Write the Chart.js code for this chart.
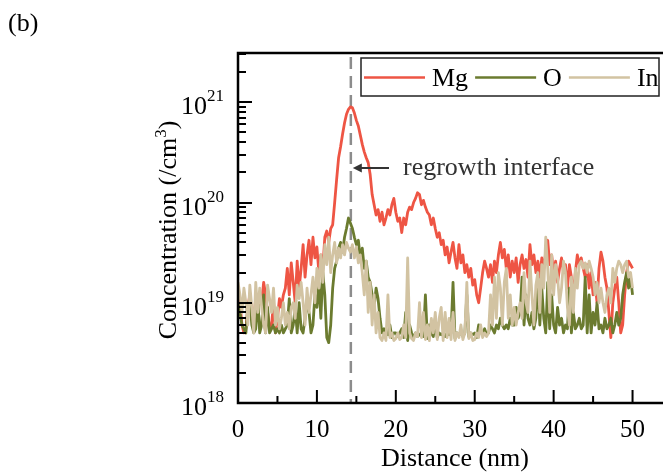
<!DOCTYPE html>
<html><head><meta charset="utf-8">
<script src="https://cdn.jsdelivr.net/npm/chart.js@4/dist/chart.umd.min.js"></script>
<style>
html,body{margin:0;padding:0;background:#fff;overflow:hidden;width:663px;height:474px}
#wrap{position:relative;width:680px;height:474px;overflow:hidden}
canvas{display:block}
</style></head><body>
<div id="wrap"><canvas id="c" width="680" height="474"></canvas></div>
<script>
// Distance sampling (nm) and concentrations in units of 1e18 /cm^3
const distanceStep = 0.25;
const UNIT = 1e18;
const mg = [
13,10,6,5, 5.5,9,12,8, 7,11,9,12, 10,16,12,8, 5.5,6,10,5,
7,11,9,12, 14,22,12,25, 16,10,26,14, 22,38,18,30, 42,24,45,28,
36,20,30,22, 45,52,40,55, 60,100,170,280, 360,480,620,760, 850,900,880,780,
660,580,470,380, 320,280,250,190, 120,95,75,85, 65,80,60,70, 85,75,95,110,
80,65,70,50, 70,60,80,90, 85,100,110,125, 120,95,105,90, 80,75,60,70,
55,45,50,38, 42,30,36,25, 32,40,28,22, 38,25,30,20, 24,18,22,15,
17,12,10,14, 20,26,22,18, 24,16,26,20, 30,40,28,34, 22,30,18,26,
20,28,16,24, 30,22,27,18, 38,24,30,20, 26,18,28,22, 32,42,24,30,
20,26,16,22, 28,20,24,14, 24,18,12,20, 30,24,28,22, 18,24,14,20,
12,16,10,22, 32,26,18,14, 8,4.5,10,14, 18,10,5,6, 12,20,26,24,
22
];
const oxygen = [
10,8,6,5.5, 5,9,11,6, 5,5.5,11,5, 6,12,5,9, 5,5.5,6,5,
5.5,5,6,5, 5.5,6,11,5, 6,9,5,10, 5.5,5,7,10, 8,5,6,12,
9,16,7,20, 12,4.5,4,6, 14,22,26,35, 40,32,45,55, 70,62,55,45,
38,42,28,35, 22,26,18,16, 12,9,14,11, 7,5,5.5,5, 4.8,6,4.5,5,
5,4.6,5,5.5, 4.5,8,4.2,6, 5,4.5,5,4.6, 4.8,5,4.6,12, 4.4,6,5,4.6,
7,4.5,5,4.8, 5,4.6,5,4.8, 5,16,4.4,5, 4.8,5,4.6,5, 12,4.6,5,4.8,
5,4.5,6,5, 5,5.5,4.8,5, 6,5.5,5,6, 5.5,7,6,5.5, 6,5.5,7,6,
6,9,7,8, 18,6,12,7, 6,8,5.5,7, 18,6,14,7, 5,16,5.5,12,
6,5,9,6, 7,5,6,5.5, 14,5,8,5.5, 6,7,5.5,6, 18,5,12,5,
8,6,10,5.5, 6,5,7,5.5, 6,7,5,6, 8,6,7,12, 16,20,14,18,
12
];
const indium = [
16,12,8,14, 10,6,15,9, 5,16,8,14, 9,6,5,15, 11,8,14,6,
9,5.5,7,10, 6,8,5.5,9, 10,7,15,11, 16,10,6,14, 8,12,18,10,
22,14,30,16, 38,24,45,20, 30,40,25,35, 28,38,30,40, 35,32,38,28,
36,25,30,20, 12,26,8,16, 6,12,5,8, 4.5,4.2,5,4.2, 12,4.5,5,4.2,
4.4,5,4.3,4.5, 6,4.5,28,5, 4.4,4.2,5,4.6, 10,4.5,8,4.3, 6,4.2,7,5,
8,4.3,7,9, 4.2,8,4.5,7, 4.3,8,4.2,5, 4.5,6,4.3,5, 16,4.4,5,4.2,
4.3,5,4.5,6, 4.5,5,4.6,5, 12,6,18,7, 20,14,6,16, 22,7,12,6,
9,6,8,10, 7,20,10,8, 26,12,6,15, 20,8,24,14, 45,22,8,30,
12,24,18,10, 14,26,20,9, 6,18,8,22, 14,24,26,22, 25,20,26,22,
18,12,16,10, 14,10,8,12, 14,10,22,16, 22,26,24,20, 24,26,18,20,
14
];
const seriesLabels = ['Mg', 'O', 'In'];
const seriesColors = ['#EE5544', '#6B7B2F', '#D2C3A2'];
const xMajorTicks = [0, 10, 20, 30, 40, 50];
const xMinorTicks = [5, 15, 25, 35, 45];
const yDecades = [18, 19, 20, 21];
const interfaceDistance = 14.3;
const xAxisTitle = 'Distance (nm)';
const yAxisTitle = ['Concentration (/cm', '3', ')'];
const panelLabel = '(b)';
const annotationText = 'regrowth interface';

const serif = '"Liberation Serif", "Times New Roman", serif';
const toPoints = arr => arr.map((v, i) => ({ x: i * distanceStep, y: v * UNIT }));

const deco = {
  id: 'deco',
  beforeDatasetsDraw(chart) {
    const { ctx, chartArea: a, scales: { x } } = chart;
    const xi = x.getPixelForValue(interfaceDistance);
    ctx.save();
    ctx.strokeStyle = '#8c8c8c';
    ctx.lineWidth = 2.5;
    ctx.setLineDash([12, 7]);
    ctx.beginPath(); ctx.moveTo(xi, a.top + 4); ctx.lineTo(xi, a.bottom); ctx.stroke();
    ctx.restore();
  },
  afterDatasetsDraw(chart) {
    const { ctx, chartArea: a, scales: { x, y } } = chart;
    ctx.save();
    // axes frame (left, bottom, top)
    ctx.strokeStyle = '#000'; ctx.lineWidth = 2.5; ctx.lineCap = 'square';
    ctx.beginPath();
    ctx.moveTo(a.right, a.top); ctx.lineTo(a.left, a.top); ctx.lineTo(a.left, a.bottom); ctx.lineTo(a.right, a.bottom);
    ctx.stroke();
    ctx.lineCap = 'butt'; ctx.lineWidth = 2;
    // y ticks
    ctx.beginPath();
    yDecades.forEach(e => {
      for (let k = 1; k <= 9; k++) {
        const v = k * Math.pow(10, e);
        if (v > y.max * 1.0001) break;
        const p = Math.round(y.getPixelForValue(v));
        const len = k === 1 ? 14 : 8;
        ctx.moveTo(a.left, p); ctx.lineTo(a.left + len, p);
      }
    });
    // x ticks
    xMajorTicks.forEach(t => { const p = x.getPixelForValue(t); ctx.moveTo(p, a.bottom); ctx.lineTo(p, a.bottom - 13); });
    xMinorTicks.forEach(t => { const p = x.getPixelForValue(t); ctx.moveTo(p, a.bottom); ctx.lineTo(p, a.bottom - 7); });
    ctx.stroke();

    ctx.fillStyle = '#000';
    // x tick labels
    ctx.font = '25px ' + serif; ctx.textAlign = 'center'; ctx.textBaseline = 'alphabetic';
    xMajorTicks.forEach(t => ctx.fillText(String(t), x.getPixelForValue(t), a.bottom + 34));
    // y tick labels 10^n
    yDecades.forEach(e => {
      const p = y.getPixelForValue(Math.pow(10, e));
      ctx.font = '26px ' + serif; ctx.textAlign = 'right';
      ctx.fillText('10', 207, p + 12);
      ctx.font = '17px ' + serif; ctx.textAlign = 'left';
      ctx.fillText(String(e), 207, p - 1);
    });
    // x axis title
    ctx.font = '26px ' + serif; ctx.textAlign = 'center';
    ctx.fillText(xAxisTitle, (a.left + a.right) / 2, 466);
    // y axis title with superscript
    ctx.save();
    ctx.translate(176, (a.top + a.bottom) / 2 + 2);
    ctx.rotate(-Math.PI / 2);
    ctx.textAlign = 'left';
    ctx.font = '26px ' + serif; const w1 = ctx.measureText(yAxisTitle[0]).width; const w3 = ctx.measureText(yAxisTitle[2]).width;
    ctx.font = '17px ' + serif; const w2 = ctx.measureText(yAxisTitle[1]).width;
    let sx = -(w1 + w2 + w3) / 2;
    ctx.font = '26px ' + serif; ctx.fillText(yAxisTitle[0], sx, 0);
    ctx.font = '17px ' + serif; ctx.fillText(yAxisTitle[1], sx + w1, -10);
    ctx.font = '26px ' + serif; ctx.fillText(yAxisTitle[2], sx + w1 + w2, 0);
    ctx.restore();
    // panel label
    ctx.font = '26px ' + serif; ctx.textAlign = 'left';
    ctx.fillText(panelLabel, 8, 31);

    // legend
    ctx.fillStyle = '#fff';
    ctx.fillRect(361, 58, 298, 38);
    ctx.strokeStyle = '#222'; ctx.lineWidth = 1.5;
    ctx.strokeRect(361, 58, 298, 38);
    let lx = 364;
    chart.data.datasets.forEach((ds) => {
      ctx.strokeStyle = ds.borderColor; ctx.lineWidth = 2.5;
      ctx.beginPath(); ctx.moveTo(lx, 77.5); ctx.lineTo(lx + 61, 77.5); ctx.stroke();
      ctx.fillStyle = '#000'; ctx.font = '26px ' + serif; ctx.textAlign = 'left';
      ctx.fillText(ds.label, lx + 68, 86);
      lx += 68 + ctx.measureText(ds.label).width + 7;
    });

    // annotation
    const xi = x.getPixelForValue(interfaceDistance);
    ctx.fillStyle = '#333'; ctx.strokeStyle = '#333';
    ctx.font = '26px ' + serif; ctx.textAlign = 'left';
    ctx.fillText(annotationText, 403, 175);
    ctx.lineWidth = 2;
    ctx.beginPath(); ctx.moveTo(389, 168); ctx.lineTo(xi + 8, 168); ctx.stroke();
    ctx.beginPath(); ctx.moveTo(xi + 2, 168); ctx.lineTo(xi + 11, 163.5); ctx.lineTo(xi + 11, 172.5); ctx.closePath(); ctx.fill();
    ctx.restore();
  }
};

new Chart(document.getElementById('c'), {
  type: 'line',
  data: {
    datasets: [
      { label: seriesLabels[0], data: toPoints(mg), borderColor: seriesColors[0], order: 3 },
      { label: seriesLabels[1], data: toPoints(oxygen), borderColor: seriesColors[1], order: 2 },
      { label: seriesLabels[2], data: toPoints(indium), borderColor: seriesColors[2], order: 1 }
    ]
  },
  options: {
    responsive: false,
    animation: false,
    layout: { padding: { top: 53, right: 8, left: 0, bottom: 0 } },
    plugins: { legend: { display: false }, tooltip: { enabled: false } },
    elements: {
      point: { radius: 0 },
      line: { borderWidth: 2.8, tension: 0, borderJoinStyle: 'round', fill: false }
    },
    scales: {
      x: { type: 'linear', min: 0, max: 55, grid: { display: false }, border: { display: false },
           ticks: { display: false }, afterFit(s) { s.height = 71; } },
      y: { type: 'logarithmic', min: 1e18, max: 3.1e21, grid: { display: false }, border: { display: false },
           ticks: { display: false }, afterFit(s) { s.width = 238; } }
    }
  },
  plugins: [deco]
});
</script>
</body></html>
